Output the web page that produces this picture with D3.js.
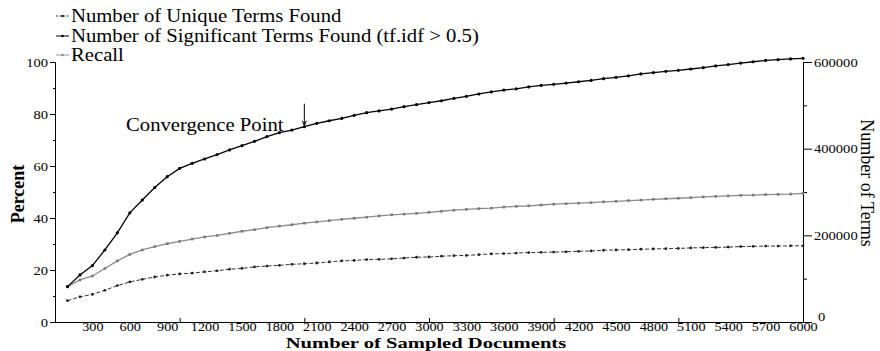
<!DOCTYPE html>
<html>
<head>
<meta charset="utf-8">
<script src="https://cdn.jsdelivr.net/npm/d3@7"></script>
<style>
  html, body { margin: 0; padding: 0; background: #fff; }
  svg { display: block; }
  text { font-family: "Liberation Serif", "Times New Roman", serif; fill: #000; }
</style>
</head>
<body>
<svg id="chart" width="880" height="351"></svg>
<script>
// ---------------- DATA ----------------
const sampledDocs = [100,200,300,400,500,600,700,800,900,1000,1100,1200,1300,1400,1500,1600,1700,1800,1900,2000,
  2100,2200,2300,2400,2500,2600,2700,2800,2900,3000,3100,3200,3300,3400,3500,3600,3700,3800,3900,4000,
  4100,4200,4300,4400,4500,4600,4700,4800,4900,5000,5100,5200,5300,5400,5500,5600,5700,5800,5900,6000];

// Number of Unique Terms Found (terms, right axis)
const uniqueTerms = [49200,58200,63600,73200,84000,92400,98400,103800,108000,111000,
  112800,115800,118200,121800,123600,127200,129000,130800,133200,134400,
  136200,138600,141000,142200,144000,144600,145800,147600,149400,150000,
  151800,153000,153600,155400,157200,157800,159000,160200,160800,161400,
  162000,163200,163800,165600,166200,166800,168000,168600,169200,169800,
  171000,171600,172200,172800,174000,174600,175200,175200,175800,175800];

// Number of Significant Terms Found (tf.idf > 0.5) (terms, right axis)
const significantTerms = [81600,108600,130200,166200,205800,252000,281400,310200,335400,354600,
  366000,376200,386400,397200,406800,417000,427800,436800,442800,450600,
  458400,464400,469800,477000,483000,487200,491400,496800,501600,506400,
  510600,516000,520800,526200,531000,535200,538200,542400,546000,548400,
  551400,554400,557400,561600,564600,568200,572400,575400,578400,580800,
  583800,586800,591000,594000,597600,600600,603600,605400,607200,608400];

// Recall (percent, left axis)
const recall = [13.6,16.2,17.7,20.6,23.5,26.0,27.7,29.0,30.1,31.0,
  31.9,32.7,33.3,34.1,34.9,35.5,36.3,36.9,37.4,38.0,
  38.5,39.0,39.5,39.9,40.3,40.8,41.2,41.5,41.8,42.2,
  42.6,43.0,43.3,43.6,43.8,44.2,44.5,44.7,45.0,45.3,
  45.5,45.7,45.9,46.2,46.4,46.7,46.9,47.2,47.4,47.6,
  47.8,48.1,48.3,48.5,48.7,48.8,49.0,49.1,49.2,49.5];

const xTickLabels = [300,600,900,1200,1500,1800,2100,2400,2700,3000,3300,3600,3900,4200,4500,4800,5100,5400,5700,6000];
const xTickMarks = [1000,2000,3000,4000,5000];
const percentTicks = [0,20,40,60,80,100];
const percentMinor = [10,30,50,70,90];
const termTicks = [0,200000,400000,600000];
const termMinor = [100000,300000,500000];
const convergenceDocs = 2000;

const legendLabels = ["Number of Unique Terms Found", "Number of Significant Terms Found (tf.idf > 0.5)", "Recall"];

// ---------------- CHART ----------------
const svg = d3.select("#chart");
const SX = 1.15; // horizontal stretch of the original figure's text

const x = d3.scaleLinear().domain([0, 6000]).range([55, 803]);
const yL = d3.scaleLinear().domain([0, 100]).range([322, 62]);
const yR = d3.scaleLinear().domain([0, 600000]).range([322, 62]);

function stretchTicks(sel, sx) {
  sel.selectAll(".tick text").each(function() {
    const t = d3.select(this);
    const tx = +t.attr("x") || 0;
    t.attr("x", 0).attr("transform", `translate(${tx},0) scale(${sx},1)`);
  });
}

// Left axis
const gL = svg.append("g").attr("transform", "translate(55,0)")
  .call(d3.axisLeft(yL).tickValues(percentTicks).tickSize(5).tickPadding(2).tickFormat(d3.format("d")));
gL.selectAll("text").style("font-size", "13px").style("font-family", "Liberation Serif, serif");
stretchTicks(gL, 1.12);
svg.append("g").attr("transform", "translate(55,0)")
  .call(d3.axisLeft(yL).tickValues(percentMinor).tickSize(2).tickFormat(""))
  .select(".domain").remove();

// Right axis
const gR = svg.append("g").attr("transform", "translate(803,0)")
  .call(d3.axisRight(yR).tickValues(termTicks).tickSize(9).tickPadding(2).tickFormat(d3.format("d")));
gR.selectAll("text").style("font-size", "13px").style("font-family", "Liberation Serif, serif");
gR.selectAll(".tick text").filter(d => d === 0).attr("y", -6).attr("x", 15);
stretchTicks(gR, 1.12);
svg.append("g").attr("transform", "translate(803,0)")
  .call(d3.axisRight(yR).tickValues(termMinor).tickSize(4).tickFormat(""))
  .select(".domain").remove();

// Bottom axis
const gB = svg.append("g").attr("transform", "translate(0,322)")
  .call(d3.axisBottom(x).tickValues(xTickLabels).tickSize(0).tickPadding(0).tickFormat(d3.format("d")));
gB.selectAll("text").style("font-size", "12.5px").style("font-family", "Liberation Serif, serif")
  .attr("y", 0).attr("dy", "0.7em");
gB.select(".domain").attr("d", "M55,0.5H803");
stretchTicks(gB, 1.14);
svg.append("g").attr("transform", "translate(0,322)")
  .call(d3.axisBottom(x).tickValues(xTickMarks).tickSize(-4).tickFormat(""))
  .select(".domain").remove();

// Lines
const lineR = (vals) => d3.line().x((d, i) => x(sampledDocs[i])).y(d => yR(d))(vals);
const lineL = (vals) => d3.line().x((d, i) => x(sampledDocs[i])).y(d => yL(d))(vals);

// Recall (gray)
svg.append("path").attr("d", lineL(recall)).attr("fill", "none")
  .attr("stroke", "#8a8a8a").attr("stroke-width", 1.3);
svg.append("g").selectAll("rect").data(recall).join("rect")
  .attr("x", (d, i) => x(sampledDocs[i]) - 1.3).attr("y", d => yL(d) - 1.3)
  .attr("width", 2.6).attr("height", 2.6).attr("fill", "#7a7a7a");

// Unique terms (dashed)
svg.append("path").attr("d", lineR(uniqueTerms)).attr("fill", "none")
  .attr("stroke", "#333").attr("stroke-width", 1).attr("stroke-dasharray", "4,2");
svg.append("g").selectAll("circle").data(uniqueTerms).join("circle")
  .attr("cx", (d, i) => x(sampledDocs[i])).attr("cy", d => yR(d))
  .attr("r", 1.4).attr("fill", "#222");

// Significant terms (black)
svg.append("path").attr("d", lineR(significantTerms)).attr("fill", "none")
  .attr("stroke", "#000").attr("stroke-width", 1.3);
svg.append("g").selectAll("circle").data(significantTerms).join("circle")
  .attr("cx", (d, i) => x(sampledDocs[i])).attr("cy", d => yR(d))
  .attr("r", 1.6).attr("fill", "#000");

// Convergence annotation
const ci = sampledDocs.indexOf(convergenceDocs);
const cx = x(convergenceDocs), cy = yR(significantTerms[ci]);
svg.append("line").attr("x1", cx).attr("x2", cx).attr("y1", cy - 23).attr("y2", cy - 2)
  .attr("stroke", "#000").attr("stroke-width", 1);
svg.append("path").attr("d", `M${cx - 2},${cy - 6}L${cx},${cy - 1}L${cx + 2},${cy - 6}`)
  .attr("fill", "none").attr("stroke", "#000").attr("stroke-width", 1);
svg.append("text").attr("transform", `translate(126,131) scale(${SX},1)`)
  .style("font-size", "18px").text("Convergence Point");

// Axis titles
svg.append("text").attr("transform", `translate(426,347.6) scale(1.33,1)`)
  .attr("text-anchor", "middle").style("font-size", "15.5px").style("font-weight", "bold")
  .text("Number of Sampled Documents");
svg.append("text").attr("transform", "translate(24,194) rotate(-90)")
  .attr("text-anchor", "middle").style("font-size", "18px").style("font-weight", "bold")
  .text("Percent");
svg.append("text").attr("transform", "translate(861,183) rotate(90)")
  .attr("text-anchor", "middle").style("font-size", "18px")
  .text("Number of Terms");

// Legend
const legendY = [22, 42, 61];
const legendStyles = [
  { stroke: "#333", dash: "2,1.5", mark: "#222" },
  { stroke: "#000", dash: null, mark: "#000" },
  { stroke: "#999", dash: null, mark: "#888" }
];
const lg = svg.append("g");
legendLabels.forEach((lab, i) => {
  const yy = legendY[i] - 6;
  const ln = lg.append("line").attr("x1", 56).attr("x2", 69).attr("y1", yy).attr("y2", yy)
    .attr("stroke", legendStyles[i].stroke).attr("stroke-width", 1);
  if (legendStyles[i].dash) ln.attr("stroke-dasharray", legendStyles[i].dash);
  lg.append("circle").attr("cx", 62.5).attr("cy", yy).attr("r", 1.3).attr("fill", legendStyles[i].mark);
  lg.append("text").attr("transform", `translate(71,${legendY[i]}) scale(${SX},1)`)
    .style("font-size", "18px").text(lab);
});
</script>
</body>
</html>
